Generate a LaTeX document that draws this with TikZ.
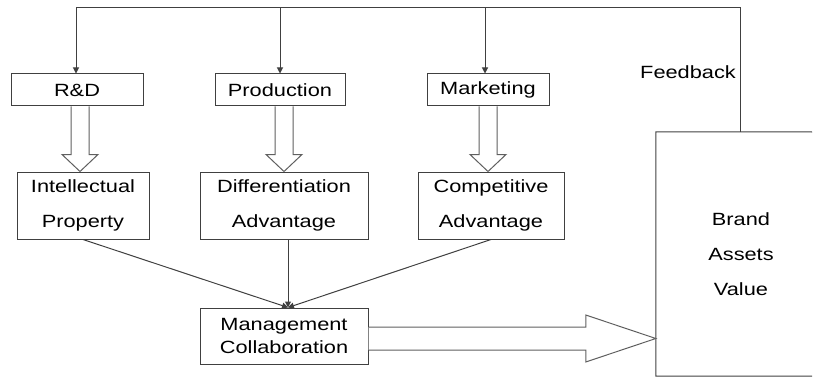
\documentclass[tikz,border=0pt]{standalone}
\usepackage{fontspec}
\setmainfont{Liberation Sans}[FakeStretch=1.23]
\usetikzlibrary{arrows.meta,calc}
\definecolor{ln}{RGB}{64,64,64}
\definecolor{hl}{RGB}{96,96,96}
\begin{document}
\begin{tikzpicture}[x=1pt,y=-1pt,
  every node/.style={font=\fontsize{17.7}{21}\selectfont, inner sep=0pt, align=center},
  box/.style={draw=ln, line width=1pt, rectangle},
  link/.style={draw=ln, line width=1pt},
  tip/.style={-{Triangle[width=6pt,length=6pt]}},
  hollow/.style={draw=hl, line width=1pt, fill=white, line join=miter}]
\useasboundingbox (0,0) rectangle (813,377);

% functions
\node[box, minimum width=132, minimum height=32] (rd)   at (77,90)  {R\&D};
\node[box, minimum width=130, minimum height=32] (prod) at (280,90) {Production};
\node[box, minimum width=122, minimum height=32] (mkt)  at (488,90) {Marketing};

% resulting advantages
\node[box, minimum width=132, minimum height=67] (ip)   at (83,205.5)  {Intellectual\\[14pt]Property};
\node[box, minimum width=168, minimum height=67] (diff) at (284,205.5) {Differentiation\\[14pt]Advantage};
\node[box, minimum width=146, minimum height=67] (comp) at (491,205.5) {Competitive\\[14pt]Advantage};

% collaboration and outcome
\node[box, minimum width=168, minimum height=56] (mgmt) at (284,336) {Management\\[2pt]Collaboration};
\node[minimum width=170, minimum height=244] (brand) at (741,254) {Brand\\[14pt]Assets\\[14pt]Value};
% the brand box runs on to the right margin, so only three sides show
\coordinate (bne) at (812,132);
\coordinate (bse) at (812,376);
\draw[link] (bne) -- (brand.north west) -- (brand.south west) -- (bse);

% feedback loop
\coordinate (fb) at (740,8);
\coordinate (rdin) at ([xshift=-1pt]rd.north);
\coordinate (mkin) at ([xshift=-3pt]mkt.north);
\node[anchor=east] (fbl) at (736,72) {Feedback};
\draw[link, tip] (brand.north -| fb) -- (fb) -| (rdin);
\draw[link, tip] (fb -| prod.north) -- (prod.north);
\draw[link, tip] (fb -| mkin) -- (mkin);

% hollow arrows: #1 start on the upper box, #2 tip on the lower box
\newcommand\hollowdown[2]{%
  \draw[hollow] ($(#1)+(-9,0)$) -- ($(#2)+(-9,-17)$) -- ($(#2)+(-18,-17)$)
    -- (#2) -- ($(#2)+(18,-17)$) -- ($(#2)+(9,-17)$) -- ($(#1)+(9,0)$);}
\coordinate (rdout) at ([xshift=3pt]rd.south);
\coordinate (ipin) at ([xshift=-3pt]ip.north);
\coordinate (prout) at ([xshift=4pt]prod.south);
\coordinate (cpin) at ([xshift=-3pt]comp.north);
\hollowdown{rdout}{ipin}
\hollowdown{prout}{diff.north}
\hollowdown{mkt.south}{cpin}

% converging connectors
\coordinate (mt) at ([xshift=4pt]mgmt.north);
\coordinate (dfout) at ([xshift=4pt]diff.south);
\draw[link, tip] (ip.south) -- (mt);
\draw[link, tip] (dfout) -- (mt);
\draw[link, tip] (comp.south) -- (mt);

% broad arrow into brand value
\coordinate (ms) at ([yshift=-2.5pt]mgmt.east);
\coordinate (bt) at (brand.west |- ms);
\draw[hollow] ($(ms)+(0,-11.5)$) -- ($(bt)+(-70,-11.5)$) -- ($(bt)+(-70,-23.5)$)
  -- (bt) -- ($(bt)+(-70,23.5)$) -- ($(bt)+(-70,11.5)$) -- ($(ms)+(0,11.5)$);
\end{tikzpicture}
\end{document}
